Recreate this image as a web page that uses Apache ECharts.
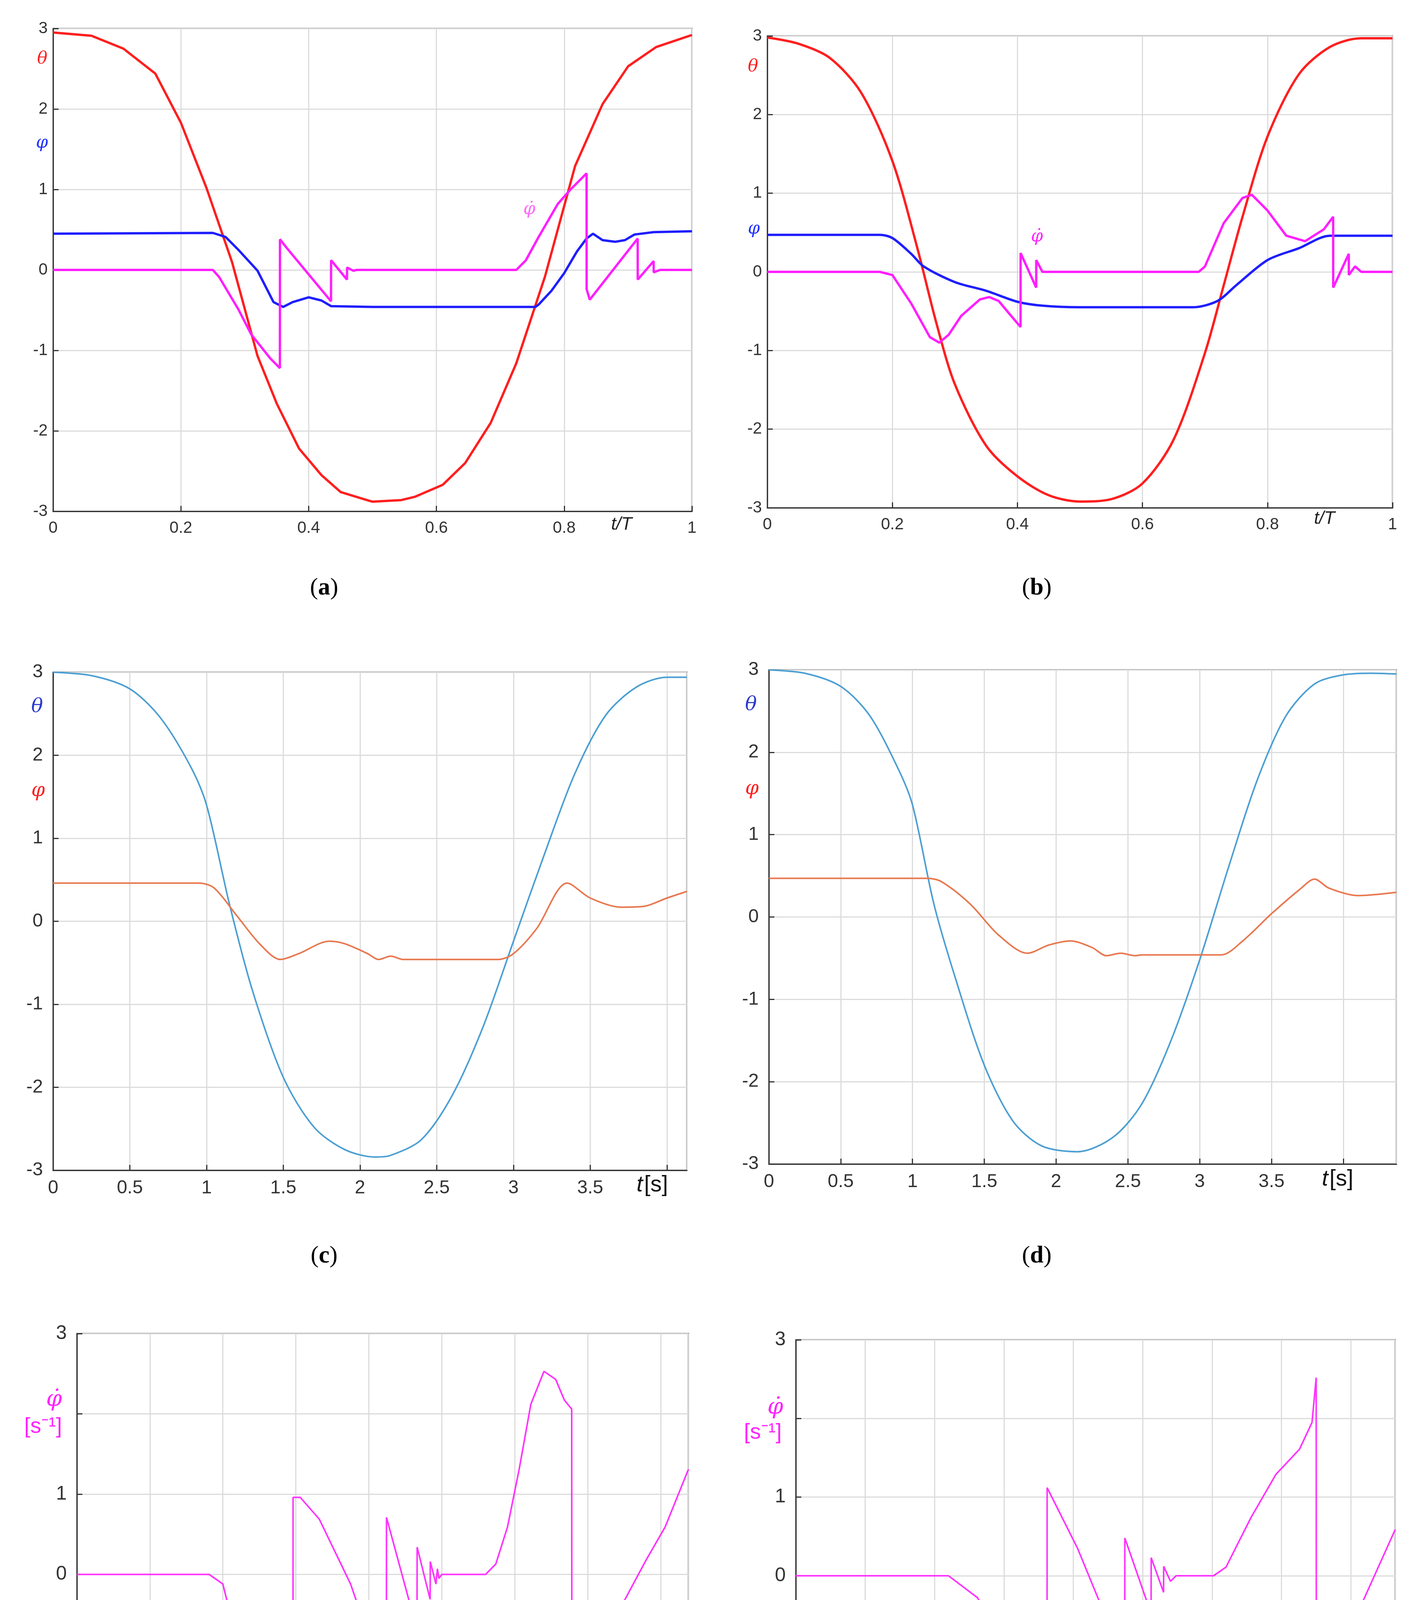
<!DOCTYPE html>
<html><head><meta charset="utf-8">
<script src="https://cdn.jsdelivr.net/npm/echarts@6/dist/echarts.min.js"></script>
<style>html,body{margin:0;padding:0;background:#fff}#c{width:3644px;height:4947px}</style>
</head><body><div id="c"></div>
<script>
// ---- data ----
const aThetaX=[0,0.06,0.11,0.16,0.2,0.24,0.28,0.32,0.35,0.385,0.42,0.45,0.487,0.5,0.545,0.566,0.61,0.645,0.685,0.725,0.77,0.817,0.86,0.9,0.944,1];
const aThetaY=[2.95,2.91,2.75,2.44,1.83,1.02,0.1,-1.07,-1.66,-2.22,-2.55,-2.76,-2.85,-2.88,-2.86,-2.82,-2.67,-2.4,-1.9,-1.16,-0.08,1.29,2.06,2.53,2.77,2.92];
const aPhiX=[0,0.25,0.27,0.29,0.32,0.345,0.36,0.375,0.4,0.42,0.435,0.5,0.755,0.76,0.78,0.8,0.82,0.835,0.845,0.86,0.88,0.895,0.91,0.94,1];
const aPhiY=[0.45,0.46,0.41,0.25,-0.01,-0.4,-0.46,-0.4,-0.34,-0.38,-0.45,-0.46,-0.46,-0.43,-0.26,-0.04,0.23,0.39,0.45,0.37,0.35,0.37,0.44,0.47,0.48];
const aDotX=[0,0.25,0.26,0.29,0.31,0.34,0.355,0.3551,0.365,0.435,0.4351,0.46,0.4601,0.47,0.475,0.725,0.74,0.76,0.79,0.81,0.835,0.8351,0.84,0.915,0.9151,0.94,0.9401,0.95,1];
const aDotY=[0,0,-0.09,-0.49,-0.8,-1.1,-1.22,0.38,0.28,-0.39,0.12,-0.12,0.03,-0.01,0,0,0.12,0.41,0.82,1.0,1.2,-0.24,-0.37,0.39,-0.12,0.11,-0.03,0,0];

const bThetaX=[0,0.05,0.1,0.15,0.2,0.24,0.27,0.3,0.35,0.4,0.45,0.5,0.55,0.6,0.65,0.7,0.73,0.76,0.8,0.85,0.9,0.95,1];
const bThetaY=[2.98,2.9,2.72,2.28,1.41,0.3,-0.64,-1.43,-2.21,-2.6,-2.84,-2.92,-2.89,-2.69,-2.13,-1.03,-0.17,0.7,1.72,2.51,2.86,2.97,2.97];
const bPhiX=[0,0.18,0.2,0.23,0.25,0.3,0.35,0.4,0.44,0.5,0.68,0.72,0.75,0.8,0.85,0.9,1];
const bPhiY=[0.47,0.47,0.43,0.23,0.07,-0.13,-0.24,-0.38,-0.43,-0.45,-0.45,-0.37,-0.17,0.15,0.3,0.46,0.46];
const bDotX=[0,0.18,0.2,0.23,0.26,0.275,0.29,0.31,0.34,0.355,0.37,0.39,0.405,0.4051,0.43,0.4301,0.44,0.69,0.7,0.73,0.76,0.775,0.8,0.83,0.86,0.89,0.905,0.9051,0.93,0.9301,0.94,0.95,1];
const bDotY=[0,0,-0.04,-0.4,-0.83,-0.9,-0.8,-0.56,-0.35,-0.32,-0.37,-0.56,-0.7,0.24,-0.2,0.15,0,0,0.07,0.62,0.94,0.98,0.78,0.46,0.39,0.54,0.7,-0.2,0.23,-0.04,0.07,0,0];

const cThetaX=[0,0.25,0.5,0.7,0.9,1.0,1.15,1.3,1.5,1.7,1.9,2.1,2.2,2.4,2.6,2.8,3.0,3.2,3.4,3.6,3.8,4.0,4.13];
const cThetaY=[3.0,2.96,2.8,2.45,1.85,1.4,0.2,-0.84,-1.88,-2.48,-2.75,-2.84,-2.82,-2.63,-2.1,-1.28,-0.24,0.8,1.78,2.48,2.82,2.94,2.94];
const cPhiX=[0,0.95,1.05,1.2,1.35,1.48,1.6,1.8,1.9,2.05,2.12,2.2,2.28,2.4,2.9,3.0,3.15,3.35,3.5,3.7,3.85,4.0,4.13];
const cPhiY=[0.46,0.46,0.4,0.06,-0.28,-0.46,-0.39,-0.24,-0.27,-0.39,-0.46,-0.42,-0.46,-0.46,-0.46,-0.39,-0.09,0.46,0.28,0.17,0.18,0.28,0.36];

const dThetaX=[0,0.25,0.5,0.7,0.9,1.0,1.15,1.3,1.5,1.7,1.9,2.15,2.4,2.6,2.8,3.0,3.2,3.4,3.6,3.8,4.0,4.2,4.37];
const dThetaY=[3.0,2.96,2.8,2.45,1.8,1.36,0.15,-0.75,-1.8,-2.48,-2.78,-2.85,-2.67,-2.26,-1.5,-0.52,0.6,1.66,2.44,2.83,2.94,2.96,2.95];
const dPhiX=[0,1.1,1.2,1.4,1.6,1.8,1.95,2.1,2.25,2.35,2.45,2.55,2.6,3.15,3.3,3.5,3.7,3.8,3.9,4.1,4.37];
const dPhiY=[0.47,0.47,0.43,0.16,-0.22,-0.44,-0.34,-0.29,-0.37,-0.47,-0.44,-0.47,-0.46,-0.46,-0.29,0.04,0.34,0.46,0.35,0.26,0.3];

const eDotX=[0,0.906,1.0,1.09,1.19,1.25,1.31,1.41,1.48,1.481,1.53,1.66,1.875,2.03,2.12,2.121,2.33,2.331,2.42,2.421,2.46,2.47,2.48,2.5,2.8,2.87,2.95,3.03,3.11,3.2,3.28,3.34,3.39,3.391,3.44,3.53,3.72,3.9,4.03,4.19];
const eDotY=[0,0,-0.12,-0.79,-1.76,-2.3,-2.52,-2.32,-2.05,0.96,0.96,0.69,-0.12,-0.94,-1.5,0.71,-0.69,0.34,-0.31,0.16,-0.12,0.07,-0.05,0,0,0.13,0.59,1.31,2.12,2.53,2.43,2.17,2.06,-1.12,-1.14,-0.99,-0.43,0.18,0.59,1.31];
const fDotX=[0,1.1,1.31,1.49,1.67,1.8,1.81,1.811,2.03,2.37,2.371,2.56,2.561,2.65,2.651,2.7,2.74,3.01,3.1,3.28,3.46,3.63,3.72,3.75,3.751,3.9,4.08,4.32];
const fDotY=[0,0,-0.28,-0.91,-1.38,-2.09,-2.52,1.12,0.35,-1.11,0.48,-0.48,0.23,-0.21,0.12,-0.07,0,0,0.11,0.74,1.29,1.61,1.95,2.52,-1.25,-0.75,-0.35,0.59];

// ---- chart ----
const zip=(x,y)=>x.map((v,i)=>[v,y[i]]);
const panels=[
 {l:136,r:1772,t:73,b:1309,max:1,int:0.2,box:false,lw:6,fs:42,s:[[aThetaX,aThetaY,'#ff1e1e',0],[aPhiX,aPhiY,'#1e1eff',0],[aDotX,aDotY,'#ff1eff',0]]},
 {l:1965,r:3566,t:92,b:1300,max:1,int:0.2,box:false,lw:6,fs:42,s:[[bThetaX,bThetaY,'#ff1e1e',0.3],[bPhiX,bPhiY,'#1e1eff',0.3],[bDotX,bDotY,'#ff1eff',0]]},
 {l:136,r:1759,t:1721,b:2996,max:4.13,int:0.5,box:true,lw:4,fs:48,s:[[cThetaX,cThetaY,'#4c9fd3',0.3],[cPhiX,cPhiY,'#e8784f',0.3]]},
 {l:1969,r:3576,t:1715,b:2980,max:4.37,int:0.5,box:true,lw:4,fs:48,s:[[dThetaX,dThetaY,'#4c9fd3',0.3],[dPhiX,dPhiY,'#e8784f',0.3]]},
 {l:197,r:1763,t:3414,b:4647,max:4.19,int:0.5,box:true,lw:4,fs:50,hide2:true,s:[[eDotX,eDotY,'#ff33ff',0]]},
 {l:2038,r:3573,t:3430,b:4638,max:4.32,int:0.5,box:true,lw:4,fs:50,hide2:true,s:[[fDotX,fDotY,'#ff33ff',0]]}
];
const grid=[],xAxis=[],yAxis=[],series=[];
panels.forEach((p,i)=>{
  const lab={color:'#333',fontSize:p.fs,fontFamily:'Liberation Sans'};
  grid.push({left:p.l,top:p.t,width:p.r-p.l,height:p.b-p.t,show:true,borderColor:p.box?'#333':'#555',borderWidth:3});
  xAxis.push({type:'value',gridIndex:i,min:0,max:p.max,interval:p.int,
    axisLine:{onZero:false,lineStyle:{color:'#333',width:3}},axisTick:{inside:true,length:14,lineStyle:{color:'#333',width:3}},
    axisLabel:{...lab,margin:22,showMaxLabel:p.max===1,formatter:v=>(p.max>1&&v>3.6)?'':String(+v.toFixed(1))},splitLine:{lineStyle:{color:'#dcdcdc',width:3}}});
  yAxis.push({type:'value',gridIndex:i,min:-3,max:3,interval:1,
    axisLine:{lineStyle:{color:'#333',width:3}},axisTick:{inside:true,length:14,lineStyle:{color:'#333',width:3}},
    axisLabel:{...lab,margin:p.box?26:14,formatter:v=>(p.hide2&&v===2)?'':String(v)},splitLine:{lineStyle:{color:'#dcdcdc',width:3}}});
  p.s.forEach(s=>series.push({type:'line',xAxisIndex:i,yAxisIndex:i,data:zip(s[0],s[1]),showSymbol:false,symbol:'none',
    smooth:s[3],lineStyle:{color:s[2],width:p.lw},animation:false}));
});
const txt=(x,y,t,c,fs)=>({type:'text',x,y,style:{text:t,fill:c,font:`italic ${fs}px "DejaVu Serif"`}});
const capB=(x,y,l)=>({type:'text',x,y,style:{rich:{p:{font:'62px "Liberation Serif"',fill:'#000'},b:{font:'bold 62px "Liberation Serif"',fill:'#000'}},text:'{p|(}{b|'+l+'}{p|)}',textAlign:'center'}});
const tS=(x,y)=>({type:'text',x,y,style:{rich:{i:{font:'italic 58px "Liberation Sans"',fill:'#111'},n:{font:'58px "Liberation Sans"',fill:'#111'}},text:'{i|t} {n|[s]}'}});
const graphic=[
 txt(95,130,'θ','#ff2020',44), txt(92,345,'φ','#2030ff',44), txt(1340,515,'φ̇','#ff66ff',44),
 txt(1915,150,'θ','#ff2020',44), txt(1915,565,'φ','#2030ff',44), txt(2640,585,'φ̇','#ff22ff',44),
 txt(80,1785,'θ','#2a3ad0',50), txt(80,2000,'φ','#ff2020',50),
 txt(1908,1780,'θ','#2a3ad0',50), txt(1908,1995,'φ','#ff2020',50),
 txt(118,3555,'φ̇','#ff22ff',58),{type:'text',x:62,y:3625,style:{text:'[s⁻¹]',fill:'#ff22ff',font:'56px "Liberation Sans"'}},
 txt(1965,3575,'φ̇','#ff22ff',58),{type:'text',x:1905,y:3640,style:{text:'[s⁻¹]',fill:'#ff22ff',font:'56px "Liberation Sans"'}},
 {type:'text',x:1565,y:1320,style:{text:'t/T',fill:'#222',font:'italic 46px "Liberation Sans"'}},
 {type:'text',x:3365,y:1305,style:{text:'t/T',fill:'#222',font:'italic 46px "Liberation Sans"'}},
 tS(1630,3005),tS(3385,2990),tS(1600,4660),tS(3410,4650),
 capB(830,1475,'a'),capB(2655,1475,'b'),capB(830,3185,'c'),capB(2655,3185,'d'),capB(830,4830,'e'),capB(2655,4830,'f')
];
const chart=echarts.init(document.getElementById('c'),null,{renderer:'canvas'});
chart.setOption({backgroundColor:'#fff',animation:false,grid,xAxis,yAxis,series,graphic});
</script></body></html>
